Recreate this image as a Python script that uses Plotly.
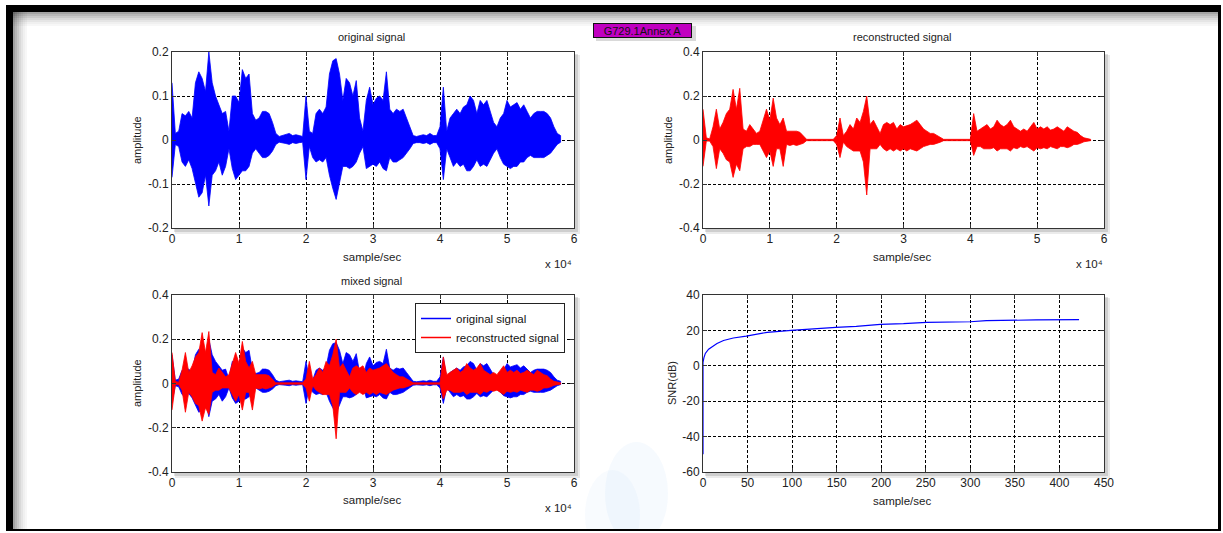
import plotly.graph_objects as go

W, H = 1223, 533

# ---------------- data ----------------
sample_pos = list(range(0, 58001, 500))  # reading grid (samples)

orig_upper = [0.13, 0.015, 0.02, 0.06, 0.055, 0.065, 0.05, 0.13, 0.155, 0.14,
              0.11, 0.2, 0.13, 0.1, 0.08, 0.06, 0.065, 0.02, 0.1, 0.1,
              0.085, 0.16, 0.14, 0.15, 0.06, 0.045, 0.05, 0.065, 0.065, 0.06,
              0.04, 0.015, 0.008, 0.01, 0.012, 0.015, 0.01, 0.012, 0.01, 0.008,
              0.1, 0.02, 0.015, 0.06, 0.07, 0.06, 0.075, 0.15, 0.18, 0.185,
              0.15, 0.09, 0.14, 0.13, 0.1, 0.135, 0.05, 0.02, 0.09, 0.12,
              0.08, 0.095, 0.1, 0.09, 0.155, 0.07, 0.06, 0.07, 0.065, 0.07,
              0.05, 0.03, 0.01, 0.008, 0.01, 0.012, 0.01, 0.015, 0.01, 0.01,
              0.03, 0.12, 0.02, 0.05, 0.06, 0.07, 0.06, 0.075, 0.08, 0.1,
              0.09, 0.06, 0.09, 0.08, 0.09, 0.065, 0.04, 0.03, 0.05, 0.06,
              0.09, 0.075, 0.08, 0.085, 0.07, 0.08, 0.065, 0.05, 0.06, 0.065,
              0.065, 0.065, 0.06, 0.05, 0.03, 0.015, 0.01]
orig_lower = [-0.085, -0.01, -0.015, -0.05, -0.06, -0.045, -0.065, -0.1, -0.13, -0.12,
              -0.08, -0.15, -0.08, -0.07, -0.05, -0.08, -0.06, -0.02, -0.065, -0.09,
              -0.08, -0.07, -0.07, -0.06, -0.03, -0.02, -0.03, -0.04, -0.04, -0.035,
              -0.025, -0.01, -0.005, -0.006, -0.008, -0.01, -0.006, -0.008, -0.006, -0.005,
              -0.09, -0.015, -0.04, -0.05, -0.045, -0.05, -0.04, -0.08, -0.11, -0.135,
              -0.1, -0.06, -0.06, -0.065, -0.06, -0.05, -0.03, -0.015, -0.065, -0.06,
              -0.055, -0.06, -0.05, -0.065, -0.07, -0.04, -0.05, -0.05, -0.045, -0.04,
              -0.03, -0.02, -0.008, -0.006, -0.006, -0.008, -0.006, -0.01, -0.006, -0.006,
              -0.02, -0.09, -0.02, -0.04, -0.06, -0.05, -0.06, -0.055, -0.07, -0.07,
              -0.06, -0.045, -0.06, -0.055, -0.06, -0.045, -0.03, -0.02, -0.04, -0.055,
              -0.06, -0.065, -0.06, -0.06, -0.05, -0.05, -0.04, -0.035, -0.04, -0.04,
              -0.04, -0.04, -0.035, -0.03, -0.02, -0.01, -0.005]

recon_upper = [0.14, 0.01, 0.005, 0.06, 0.14, 0.05, 0.08, 0.12, 0.14, 0.23,
               0.14, 0.235, 0.05, 0.04, 0.07, 0.05, 0.03, 0.04, 0.09, 0.14,
               0.09, 0.19, 0.1, 0.07, 0.1, 0.04, 0.04, 0.04, 0.04, 0.035,
               0.02, 0.003, 0.003, 0.003, 0.003, 0.003, 0.006, 0.003, 0.003, 0.003,
               0.02, 0.1, 0.02, 0.04, 0.07, 0.05, 0.1, 0.08, 0.13, 0.2,
               0.07, 0.09, 0.06, 0.03, 0.07, 0.08, 0.07, 0.08, 0.05, 0.07,
               0.06, 0.065, 0.07, 0.08, 0.09, 0.07, 0.05, 0.04, 0.03, 0.03,
               0.02, 0.01, 0.003, 0.003, 0.003, 0.003, 0.003, 0.006, 0.003, 0.003,
               0.003, 0.12, 0.04, 0.05, 0.06, 0.07, 0.05, 0.06, 0.09, 0.07,
               0.06, 0.07, 0.09, 0.06, 0.05, 0.04, 0.05, 0.04, 0.06, 0.08,
               0.05, 0.06, 0.05, 0.06, 0.045, 0.05, 0.06, 0.05, 0.04, 0.06,
               0.05, 0.04, 0.035, 0.02, 0.01, 0.005, 0.003]
recon_lower = [-0.12, -0.005, -0.005, -0.03, -0.13, -0.04, -0.06, -0.09, -0.1, -0.17,
               -0.11, -0.14, -0.04, -0.03, -0.03, -0.02, -0.02, -0.02, -0.05, -0.08,
               -0.05, -0.12, -0.04, -0.04, -0.12, -0.02, -0.025, -0.02, -0.025, -0.02,
               -0.015, -0.003, -0.003, -0.003, -0.003, -0.003, -0.005, -0.003, -0.003, -0.003,
               -0.02, -0.08, -0.01, -0.03, -0.04, -0.05, -0.05, -0.05, -0.1, -0.25,
               -0.04, -0.04, -0.04, -0.02, -0.04, -0.05, -0.04, -0.05, -0.04, -0.05,
               -0.04, -0.05, -0.04, -0.045, -0.05, -0.04, -0.03, -0.025, -0.02, -0.02,
               -0.015, -0.01, -0.003, -0.003, -0.003, -0.003, -0.003, -0.005, -0.003, -0.003,
               -0.003, -0.07, -0.03, -0.03, -0.04, -0.04, -0.04, -0.035, -0.05, -0.04,
               -0.04, -0.04, -0.05, -0.035, -0.04, -0.03, -0.035, -0.03, -0.04, -0.05,
               -0.035, -0.04, -0.035, -0.04, -0.03, -0.035, -0.04, -0.03, -0.03, -0.035,
               -0.03, -0.02, -0.02, -0.015, -0.008, -0.005, -0.003]

snr_x = [0, 0, 1, 2.6, 6.3, 10, 15.7, 23, 34, 48.5, 72, 99, 124, 149, 172,
         199, 225, 251, 300, 318, 374, 422]
snr_y = [-50, 2, 4.5, 7, 9.4, 10.8, 12.6, 14.3, 15.7, 16.8, 18.9, 20, 21, 21.7, 22.3,
         23.4, 23.8, 24.5, 24.9, 25.5, 25.9, 26.1]

sig_xticks = [0, 10000, 20000, 30000, 40000, 50000, 60000]
sig_xticklabels = ["0", "1", "2", "3", "4", "5", "6"]
amp1_ticks = [-0.2, -0.1, 0, 0.1, 0.2]
amp1_labels = ["-0.2", "-0.1", "0", "0.1", "0.2"]
amp2_ticks = [-0.4, -0.2, 0, 0.2, 0.4]
amp2_labels = ["-0.4", "-0.2", "0", "0.2", "0.4"]
snr_xticks = [0, 50, 100, 150, 200, 250, 300, 350, 400, 450]
snr_xlabels = [str(v) for v in snr_xticks]
snr_yticks = [-60, -40, -20, 0, 20, 40]
snr_ylabels = ["-60", "-40", "-20", "0", "20", "40"]

# ---------------- helpers ----------------
def px(x):
    return x / W

def py(y):
    return 1 - y / H

FONT = "Liberation Sans, Arial, sans-serif"
BLUE = "#0000FF"
RED = "#FF0000"

def envelope(xs, up, lo):
    return xs + xs[::-1], up + lo[::-1]

fig = go.Figure()

ex, ey = envelope(sample_pos, orig_upper, orig_lower)
rx, ry = envelope(sample_pos, recon_upper, recon_lower)

fig.add_trace(go.Scatter(x=ex, y=ey, fill="toself", fillcolor=BLUE, mode="lines",
                         line=dict(color=BLUE, width=0.8), showlegend=False,
                         hoverinfo="skip", xaxis="x", yaxis="y"))
fig.add_trace(go.Scatter(x=rx, y=ry, fill="toself", fillcolor=RED, mode="lines",
                         line=dict(color=RED, width=0.8), showlegend=False,
                         hoverinfo="skip", xaxis="x2", yaxis="y2"))
fig.add_trace(go.Scatter(x=ex, y=ey, fill="toself", fillcolor=BLUE, mode="lines",
                         line=dict(color=BLUE, width=0.8), showlegend=False,
                         hoverinfo="skip", xaxis="x3", yaxis="y3"))
fig.add_trace(go.Scatter(x=rx, y=ry, fill="toself", fillcolor=RED, mode="lines",
                         line=dict(color=RED, width=0.8), showlegend=False,
                         hoverinfo="skip", xaxis="x3", yaxis="y3"))
fig.add_trace(go.Scatter(x=[None], y=[None], mode="lines", name="original signal",
                         line=dict(color=BLUE, width=1.5), xaxis="x3", yaxis="y3"))
fig.add_trace(go.Scatter(x=[None], y=[None], mode="lines", name="reconstructed signal",
                         line=dict(color=RED, width=1.5), xaxis="x3", yaxis="y3"))
fig.add_trace(go.Scatter(x=snr_x, y=snr_y, mode="lines", showlegend=False,
                         line=dict(color=BLUE, width=1.2), xaxis="x4", yaxis="y4"))

# plot areas in pixels
A1 = (172, 52, 574, 228)
A2 = (703, 52, 1104, 228)
A3 = (172, 295, 574, 472)
A4 = (703, 295, 1104, 472)

def axis(domain, rng, tv, tt, anchor):
    return dict(domain=domain, range=rng, tickvals=tv, ticktext=tt, anchor=anchor,
                showgrid=True, gridcolor="#000000", griddash="3px,2px", gridwidth=1,
                zeroline=False, showline=True, linecolor="#333333", linewidth=1,
                mirror="ticks", ticks="inside", ticklen=4, tickcolor="#333333",
                tickfont=dict(family=FONT, size=12, color="#222222"))

def xdom(a):
    return [px(a[0]), px(a[2])]

def ydom(a):
    return [py(a[3]), py(a[1])]

layout = dict(
    autosize=True, margin=dict(l=0, r=0, t=0, b=0, autoexpand=False),
    paper_bgcolor="white", plot_bgcolor="rgba(0,0,0,0)",
    font=dict(family=FONT, size=11, color="#222222"),
    xaxis=axis(xdom(A1), [0, 60000], sig_xticks, sig_xticklabels, "y"),
    yaxis=axis(ydom(A1), [-0.2, 0.2], amp1_ticks, amp1_labels, "x"),
    xaxis2=axis(xdom(A2), [0, 60000], sig_xticks, sig_xticklabels, "y2"),
    yaxis2=axis(ydom(A2), [-0.4, 0.4], amp2_ticks, amp2_labels, "x2"),
    xaxis3=axis(xdom(A3), [0, 60000], sig_xticks, sig_xticklabels, "y3"),
    yaxis3=axis(ydom(A3), [-0.4, 0.4], amp2_ticks, amp2_labels, "x3"),
    xaxis4=axis(xdom(A4), [0, 450], snr_xticks, snr_xlabels, "y4"),
    yaxis4=axis(ydom(A4), [-60, 40], snr_yticks, snr_ylabels, "x4"),
    showlegend=True,
    legend=dict(x=px(415), y=py(303), xanchor="left", yanchor="top",
                bgcolor="white", bordercolor="#222222", borderwidth=1,
                font=dict(family=FONT, size=11.5, color="#111111"),
                tracegroupgap=0, itemwidth=30),
)
fig.update_layout(**layout)

shapes = []

def rect(x0, y0, x1, y1, color, layer="below", line=None):
    shapes.append(dict(type="rect", xref="paper", yref="paper",
                       x0=px(x0), x1=px(x1), y0=py(y1), y1=py(y0),
                       fillcolor=color, line=line or dict(width=0), layer=layer))

# inner shading of the frame (top and left)
alphas = [0.36, 0.28, 0.21, 0.15, 0.10, 0.06, 0.03]
for k, a in enumerate(alphas):
    rect(13, 12 + 2 * k, 1218, 14 + 2 * k, "rgba(0,0,0,%.2f)" % a)
    rect(13 + 2 * k, 12, 15 + 2 * k, 529, "rgba(0,0,0,%.2f)" % a)

# faint watermark
shapes.append(dict(type="circle", xref="paper", yref="paper",
                   x0=px(605), x1=px(668), y0=py(545), y1=py(442),
                   fillcolor="rgba(150,200,240,0.09)", line=dict(width=0), layer="below"))
shapes.append(dict(type="circle", xref="paper", yref="paper",
                   x0=px(585), x1=px(640), y0=py(560), y1=py(470),
                   fillcolor="rgba(150,200,240,0.07)", line=dict(width=0), layer="below"))

# plot area shadows + white backgrounds
for a in (A1, A2, A3, A4):
    x0, y0, x1, y1 = a
    rect(x0 + 3, y0 + 3, x1 + 6, y1 + 6, "rgba(0,0,0,0.08)")
    rect(x0 + 2, y0 + 2, x1 + 4, y1 + 4, "rgba(0,0,0,0.12)")
    rect(x0, y0, x1, y1, "white")

# white below the frame
rect(0, 531, 1223, 533, "white", layer="above")
# black outer frame
rect(6, 5, 13, 531, "black", layer="above")
rect(6, 5, 1221, 12, "black", layer="above")
rect(1218, 5, 1221, 531, "black", layer="above")
rect(6, 529, 1221, 531, "black", layer="above")

# shadow of the label box
rect(596, 26, 696, 41, "rgba(0,0,0,0.15)")

fig.update_layout(shapes=shapes)

ann = []

def text(x, y, s, size=11, angle=0, **kw):
    d = dict(xref="paper", yref="paper", x=px(x), y=py(y), text=s, showarrow=False,
             xanchor="center", yanchor="middle", textangle=angle,
             font=dict(family=FONT, size=size, color="#222222"))
    d.update(kw)
    ann.append(d)

text(372, 37, "original signal")
text(902, 37, "reconstructed signal")
text(372, 281, "mixed signal")
for cx, cy in ((372, 257), (902, 257), (372, 500), (902, 501)):
    text(cx, cy, "sample/sec", size=11.5)
for cx, cy in ((558, 264), (1089, 264), (558, 508)):
    text(cx, cy, "x 10⁴", size=11.5)
text(137, 140, "amplitude", angle=-90)
text(668, 140, "amplitude", angle=-90)
text(137, 383, "amplitude", angle=-90)
text(672, 383, "SNR(dB)", angle=-90)

ann.append(dict(xref="paper", yref="paper", x=px(642.5), y=py(30), text="G729.1Annex A",
                showarrow=False, xanchor="center", yanchor="middle",
                bgcolor="#C000C0", bordercolor="#111111", borderwidth=1,
                width=95, height=11, borderpad=1,
                font=dict(family=FONT, size=11, color="#111111")))

fig.update_layout(annotations=ann)

# the graph div is pinned to the page corner so the page is exactly W x H
fig.write_html("out.html",
               default_width="%dpx" % W,
               default_height="%dpx; position:absolute; left:0; top:0" % H)
